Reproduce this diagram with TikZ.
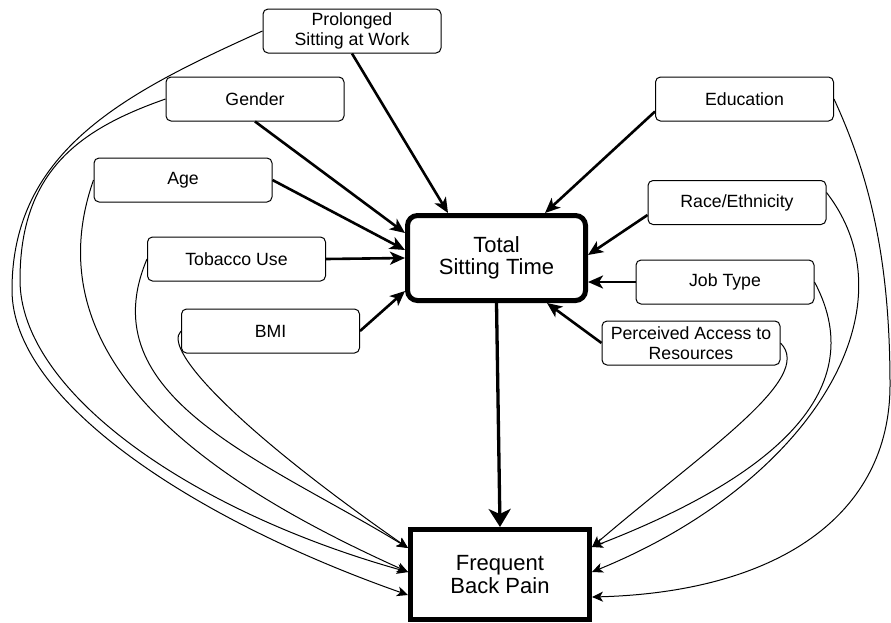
\documentclass[tikz,border=0pt]{standalone}
\usepackage{fontspec}
\setmainfont{Liberation Sans}
\usetikzlibrary{arrows.meta,calc}
\begin{document}
\begin{tikzpicture}[x=1pt,y=-1pt,
  factor/.style={draw, line width=1pt, rounded corners=5pt,
    minimum width=178pt, minimum height=44pt, inner sep=1pt, align=center,
    font=\fontsize{17.7}{19.5}\selectfont},
  mainbox/.style={draw, line width=5pt, inner sep=2pt, align=center,
    font=\fontsize{22}{22.5}\selectfont},
  boldlink/.style={line width=2.6pt, -{Stealth[length=15pt,width=13pt,inset=4pt]}},
  mainlink/.style={line width=3.3pt, -{Stealth[length=18pt,width=22pt,inset=5pt]}},
  thinlink/.style={line width=1pt, -{Stealth[length=11pt,width=10pt,inset=3pt]}},
]
\useasboundingbox (0,0) rectangle (891,622);

% exposures and covariates
\node[factor] (pro)  at (352,31)    {Prolonged\\Sitting at Work};
\node[factor] (gen)  at (255,99)    {Gender};
\node[factor] (age)  at (183,180)   {Age};
\node[factor] (tob)  at (236.5,259) {Tobacco Use};
\node[factor] (bmi)  at (270.5,331) {BMI};
\node[factor] (edu)  at (744.5,99)  {Education};
\node[factor] (race) at (737,202.5) {Race/Ethnicity};
\node[factor] (job)  at (725,282)   {Job Type};
\node[factor] (per)  at (691,343)   {Perceived Access to\\Resources};

% mediator and outcome
\node[mainbox, rounded corners=10pt, minimum width=178pt, minimum height=85pt]
  (tot) at (496.5,258) {Total\\Sitting Time};
\node[mainbox, minimum width=179pt, minimum height=90pt]
  (fbp) at (500,574.5) {Frequent\\Back Pain};

% waypoints of the wide outer curves
\coordinate (wpP) at (12,290);
\coordinate (wpG) at (20,280);
\coordinate (wpE) at (890,385);

% paths into total sitting time
\draw[boldlink] (pro.south) -- ([xshift=43pt]tot.north west);
\draw[boldlink] (gen.south) -- ([yshift=-20pt]tot.north west);
\draw[boldlink] (age.east) -- ([yshift=-37pt]tot.north west);
\draw[boldlink] (tob.east) -- (tot.west);
\draw[boldlink] (bmi.east) -- ([yshift=12pt]tot.south west);
\draw[boldlink] ([yshift=10pt]edu.south west) -- ([xshift=140pt]tot.north west);
\draw[boldlink] ([yshift=10pt]race.south west) -- ([yshift=-42pt]tot.north east);
\draw[boldlink] (job.west) -- ([yshift=21pt]tot.south east);
\draw[boldlink] (per.west) -- ([xshift=142pt]tot.south west);

% mediator to outcome
\draw[mainlink] (tot.south) -- (fbp.north);

% direct paths to the outcome, left side
\draw[thinlink] (pro.west) .. controls +(-136.5,61.5) and +(0,-140) .. (wpP)
  .. controls +(0,110) and +(-216,-76) .. ([yshift=-68pt]fbp.north west);
\draw[thinlink] (gen.west) .. controls +(-84.6,29.7) and +(0,-110) .. (wpG)
  .. controls +(0,110) and +(-221,-62) .. ([yshift=-45pt]fbp.north west);
\draw[thinlink] (age.west) .. controls +(-66,188) and +(-182,-82)
  .. ([yshift=-45pt]fbp.north west);
\draw[thinlink] (tob.west) .. controls +(-58.5,138) and +(-144.5,-88.4)
  .. ([yshift=-21pt]fbp.north west);
\draw[thinlink] (bmi.west) .. controls +(-20,19) and +(-164,-114)
  .. ([yshift=-21pt]fbp.north west);

% direct paths to the outcome, right side
\draw[thinlink] (edu.east) .. controls +(37.8,81.9) and +(0,-120) .. (wpE)
  .. controls +(0,130) and +(186,-5) .. ([yshift=-70pt]fbp.north east);
\draw[thinlink] ([yshift=10pt]race.east) .. controls +(91.5,118.5) and +(214,-87.4)
  .. ([yshift=-45pt]fbp.north east);
\draw[thinlink] (job.east) .. controls +(61,114.4) and +(167.4,-64.8)
  .. ([yshift=-20pt]fbp.north east);
\draw[thinlink] (per.east) .. controls +(35,35) and +(114,-97.5)
  .. ([yshift=-20pt]fbp.north east);
\end{tikzpicture}
\end{document}
